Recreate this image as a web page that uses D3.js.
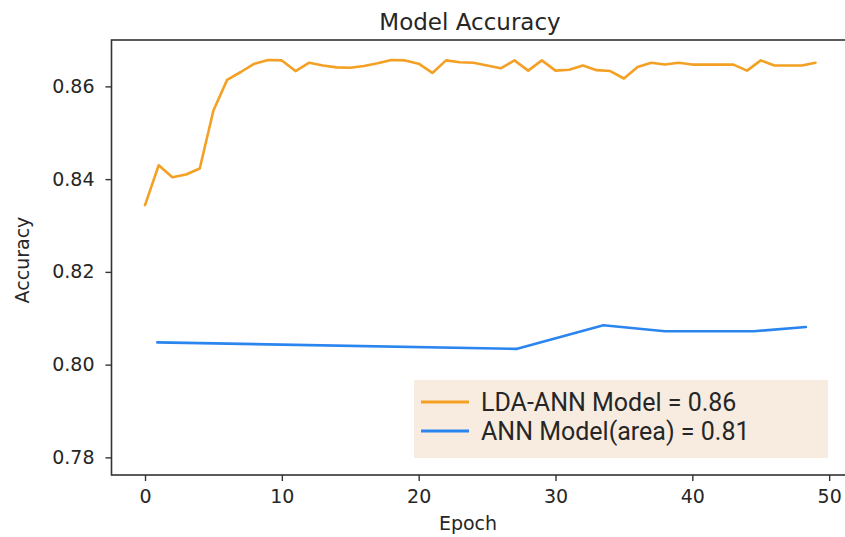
<!DOCTYPE html>
<html>
<head>
<meta charset="utf-8">
<script src="https://cdn.jsdelivr.net/npm/d3@7"></script>
<style>
  html, body { margin: 0; padding: 0; background: #fff; }
  svg { display: block; }
  text { fill: #262626; }
</style>
</head>
<body>
<svg id="chart" width="845" height="537"></svg>
<script>
// Training accuracy per epoch, LDA-ANN model
const epochs = d3.range(0, 50);
const ldaAnnAccuracy = [
  0.8344, 0.8430, 0.8404, 0.8410, 0.8423, 0.8548, 0.8614, 0.8631, 0.8649, 0.8657,
  0.8656, 0.8633, 0.8651, 0.8645, 0.8641, 0.8640, 0.8644, 0.8650, 0.8657, 0.8656,
  0.8649, 0.8629, 0.8656, 0.8652, 0.8651, 0.8645, 0.8639, 0.8656, 0.8634, 0.8656,
  0.8634, 0.8636, 0.8645, 0.8635, 0.8633, 0.8617, 0.8642, 0.8651, 0.8647, 0.8651,
  0.8647, 0.8647, 0.8647, 0.8647, 0.8634, 0.8656, 0.8645, 0.8645, 0.8645, 0.8651
];

// ANN model (area) accuracy, sampled at fewer epochs
const annEpochs = [0.9, 27.2, 33.5, 38.0, 44.5, 48.3];
const annAccuracy = [0.8048, 0.8034, 0.8085, 0.8072, 0.8072, 0.8081];

const xTicks = [0, 10, 20, 30, 40, 50];
const yTicks = [0.78, 0.80, 0.82, 0.84, 0.86];

const seriesNames = ["LDA-ANN Model = 0.86", "ANN Model(area) = 0.81"];
const seriesColors = ["#f4a024", "#2b85ee"];

const title = "Model Accuracy";
const xLabel = "Epoch";
const yLabel = "Accuracy";

// Plot frame
const plot = { left: 111.5, top: 40, right: 849, bottom: 475 };

const svg = d3.select("#chart");

const x = d3.scaleLinear().domain([-2.45, 51.45]).range([plot.left, plot.right]);
const y = d3.scaleLinear().domain([0.7762, 0.8700]).range([plot.bottom, plot.top]);

const tickFont = "'DejaVu Sans', sans-serif";

// Series lines
const lineGen = d3.line().x(d => x(d[0])).y(d => y(d[1]));

svg.append("path")
  .datum(epochs.map((e, i) => [e, ldaAnnAccuracy[i]]))
  .attr("d", lineGen)
  .attr("fill", "none")
  .attr("stroke", seriesColors[0])
  .attr("stroke-width", 2.6)
  .attr("stroke-linejoin", "round")
  .attr("stroke-linecap", "round");

svg.append("path")
  .datum(annEpochs.map((e, i) => [e, annAccuracy[i]]))
  .attr("d", lineGen)
  .attr("fill", "none")
  .attr("stroke", seriesColors[1])
  .attr("stroke-width", 2.6)
  .attr("stroke-linejoin", "round")
  .attr("stroke-linecap", "round");

// Axes
const xAxis = d3.axisBottom(x).tickValues(xTicks).tickFormat(d3.format("d"))
  .tickSizeInner(6).tickSizeOuter(0).tickPadding(9);
const yAxis = d3.axisLeft(y).tickValues(yTicks).tickFormat(d3.format(".2f"))
  .tickSizeInner(6).tickSizeOuter(0).tickPadding(11);

const gx = svg.append("g").attr("transform", `translate(0,${plot.bottom})`).call(xAxis);
const gy = svg.append("g").attr("transform", `translate(${plot.left},0)`).call(yAxis);

[gx, gy].forEach(g => {
  g.select(".domain").remove();
  g.selectAll(".tick line").attr("stroke", "#333").attr("stroke-width", 1.4);
  g.selectAll(".tick text")
    .attr("font-family", tickFont)
    .attr("font-size", 19)
    .attr("fill", "#262626");
});

// Frame spines
svg.append("rect")
  .attr("x", plot.left).attr("y", plot.top)
  .attr("width", plot.right - plot.left).attr("height", plot.bottom - plot.top)
  .attr("fill", "none").attr("stroke", "#333").attr("stroke-width", 1.6);

// Legend
const legend = svg.append("g");
legend.append("rect")
  .attr("x", 414).attr("y", 380).attr("width", 414).attr("height", 78)
  .attr("fill", "#f8ece0");
seriesNames.forEach((name, i) => {
  const cy = 402 + i * 29;
  legend.append("line")
    .attr("x1", 421).attr("x2", 469).attr("y1", cy).attr("y2", cy)
    .attr("stroke", seriesColors[i]).attr("stroke-width", 2.8);
  legend.append("text")
    .attr("x", 481).attr("y", cy + 8.5)
    .attr("font-family", "Roboto, sans-serif")
    .attr("font-size", 25)
    .text(name);
});

// Titles
svg.append("text")
  .attr("x", 470).attr("y", 30)
  .attr("text-anchor", "middle")
  .attr("font-family", tickFont).attr("font-size", 23)
  .text(title);

svg.append("text")
  .attr("x", 468).attr("y", 530)
  .attr("text-anchor", "middle")
  .attr("font-family", tickFont).attr("font-size", 19)
  .text(xLabel);

svg.append("text")
  .attr("transform", "translate(29,260) rotate(-90)")
  .attr("text-anchor", "middle")
  .attr("font-family", tickFont).attr("font-size", 19)
  .text(yLabel);
</script>
</body>
</html>
